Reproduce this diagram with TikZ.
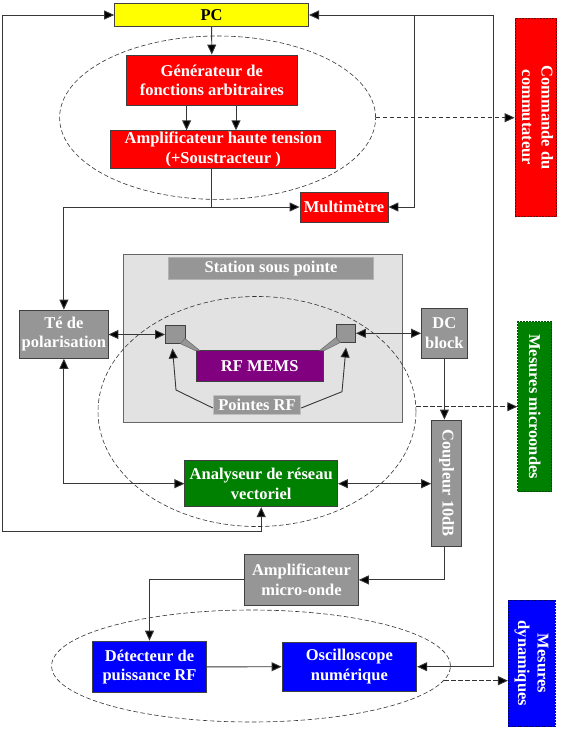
\documentclass[tikz,border=0pt]{standalone}
\usepackage{fontspec}
\setmainfont{Liberation Serif}
\usetikzlibrary{arrows.meta,shapes.geometric}
\definecolor{cyel}{RGB}{255,255,0}
\definecolor{cred}{RGB}{255,0,0}
\definecolor{cgreen}{RGB}{0,128,0}
\definecolor{cblue}{RGB}{0,0,255}
\definecolor{cpurple}{RGB}{128,0,128}
\definecolor{cgray}{RGB}{150,150,150}
\definecolor{cstation}{RGB}{226,226,226}
\definecolor{cline}{RGB}{55,55,55}
\begin{document}
\begin{tikzpicture}[x=1pt,y=-1pt,
  font=\fontsize{16.5}{19.5}\selectfont\bfseries,
  box/.style={draw=black!75, line width=0.8pt, inner sep=0pt, align=center, text=white},
  sidebox/.style={box, dash pattern=on 2pt off 1pt},
  tip/.tip={Triangle[length=10pt,width=9pt,fill=black]},
  conn/.style={draw=cline, line width=0.9pt},
  arr/.style={conn, -tip},
  arrs/.style={conn, tip-tip},
  ell/.style={draw=black!80, line width=0.6pt, dash pattern=on 4.5pt off 2.5pt, ellipse, inner sep=0pt},
  darr/.style={draw=black!80, line width=0.9pt, dash pattern=on 4.5pt off 2.5pt, -tip}
]
\useasboundingbox (0,0) rectangle (563,742);

% station background
\node[draw=black!60, fill=cstation, minimum width=278.4pt, minimum height=167.7pt, inner sep=0pt] (station) at (262.8,337.85) {};
\node[fill=cgray, draw=black!30, text=white, minimum width=205pt, minimum height=21.7pt, inner sep=0pt] (stlabel) at (271.1,268.2) {Station sous pointe};

% ellipses
\node[ell, minimum width=316pt, minimum height=163.4pt] (e1) at (217.6,117.7) {};
\node[ell, minimum width=318pt, minimum height=230pt] (e2) at (257,411.5) {};
\node[ell, minimum width=398.8pt, minimum height=112pt] (e3) at (251,666) {};

% boxes
\node[box, fill=cyel, text=black, minimum width=194pt, minimum height=23.4pt] (pc) at (211.6,15) {PC};
\node[box, fill=cred, minimum width=171.5pt, minimum height=50.7pt] (gen) at (211.8,80.3) {Générateur de\\fonctions arbitraires};
\node[box, fill=cred, minimum width=225pt, minimum height=37.6pt] (amp) at (223.2,149.5) {Amplificateur haute tension\\(+Soustracteur )};
\node[box, fill=cred, minimum width=88pt, minimum height=30pt] (multi) at (344,207) {Multimètre};
\node[box, fill=cgray, minimum width=88.2pt, minimum height=48.3pt] (te) at (63.9,334.2) {Té de\\polarisation};
\node[box, fill=cgray, minimum width=45.7pt, minimum height=50pt] (dc) at (444.4,333.3) {DC\\block};
\node[box, fill=cgray, minimum width=19.5pt, minimum height=18.3pt] (sqL) at (175.2,334.5) {};
\node[box, fill=cgray, minimum width=19.5pt, minimum height=18.3pt] (sqR) at (345.8,333.3) {};
\node[box, fill=cpurple, minimum width=126.7pt, minimum height=31pt] (mems) at (259.7,366.2) {RF MEMS};
\node[box, fill=cgray, draw=black!25, minimum width=87.5pt, minimum height=19pt] (pointes) at (257,405) {Pointes RF};
\node[box, fill=cgreen, minimum width=152.7pt, minimum height=46pt] (ana) at (261.2,483.7) {Analyseur de réseau\\vectoriel};
\node[box, fill=cgray, minimum width=30.2pt, minimum height=126pt] (coup) at (446.7,483) {\rotatebox{-90}{Coupleur 10dB}};
\node[box, fill=cgray, minimum width=113.8pt, minimum height=51.7pt] (ampmo) at (301.5,579.9) {Amplificateur\\micro-onde};
\node[box, fill=cblue, minimum width=113.8pt, minimum height=51.7pt] (det) at (149.5,666.9) {Détecteur de\\puissance RF};
\node[box, fill=cblue, minimum width=134.8pt, minimum height=48.7pt] (osc) at (349.4,666.7) {Oscilloscope\\numérique};
\node[sidebox, fill=cred, draw=red!45!black, minimum width=41.6pt, minimum height=198.4pt] (cmd) at (535.8,117.5) {\rotatebox{-90}{\begin{tabular}{@{}c@{}}Commande du\\commutateur\end{tabular}}};
\node[sidebox, fill=cgreen, draw=green!30!black, minimum width=34pt, minimum height=170pt] (mic) at (534.7,406.7) {\rotatebox{-90}{Mesures microondes}};
\node[sidebox, fill=cblue, draw=blue!40!black, minimum width=46.7pt, minimum height=126.7pt] (dyn) at (531.7,663.4) {\rotatebox{-90}{\begin{tabular}{@{}c@{}}Mesures\\dynamiques\end{tabular}}};

% probe wedges
\filldraw[fill=cgray, draw=black!60, line width=0.5pt] (180.5,343.7) -- (184.9,338.5) -- (200,350.7) -- (195.5,350.7) -- cycle;
\filldraw[fill=cgray, draw=black!60, line width=0.5pt] (340.3,342.5) -- (336,337.5) -- (319.5,350.7) -- (324,350.7) -- cycle;

% coordinates
\coordinate (lbt) at (2.5,15);
\coordinate (lbb) at (2.5,531.7);
\coordinate (rbt) at (493.5,15);
\coordinate (rmt) at (414,15);
\coordinate (j1) at (211.8,207);
\coordinate (p1) at (176,390);
\coordinate (p2) at (342,391.7);
\coordinate (t1) at (172.5,348.5);
\coordinate (t2) at (346,347.5);
\coordinate (d3) at (444,680.7);

% connectors
\draw[arr] (pc.south) -- (gen.north);
\draw[arr] ([xshift=-25.2pt]gen.south) -- ([xshift=-25.2pt]gen.south |- amp.north);
\draw[arr] ([xshift=24.2pt]gen.south) -- ([xshift=24.2pt]gen.south |- amp.north);
\draw[conn] (amp.south -| j1) -- (j1);
\draw[arr] (j1) -- (multi.west);
\draw[arr] (j1) -| (te.north);
\draw[arrs] (pc.west) -- (lbt) -- (lbb) -| (ana.south);
\draw[arrs] (pc.east) -- (rbt) |- (osc.east);
\draw[arr] (rmt) |- (multi.east);
\draw[arrs] (te.south) |- (ana.west);
\draw[arrs] (sqL.west -| te.east) -- (sqL.west);
\draw[arrs] (sqR.east) -- (dc.west);
\draw[arr] (dc.south) -- (dc.south |- coup.north);
\draw[arrs] (ana.east) -- (ana.east -| coup.west);
\draw[arr] (coup.south -| dc.south) |- (ampmo.east);
\draw[arr] (ampmo.west) -| (det.north);
\draw[arr] (det.east) -- (osc.west);
\draw[arr] ([yshift=-3pt]pointes.west) -- (p1) -- (t1);
\draw[arr] ([yshift=-3pt]pointes.east) -- (p2) -- (t2);

% dashed arrows to side boxes
\draw[darr] (e1.east) -- (e1.east -| cmd.west);
\draw[darr] (e2.east |- mic.west) -- (mic.west);
\draw[darr] (d3) -- (d3 -| dyn.west);
\end{tikzpicture}
\end{document}
